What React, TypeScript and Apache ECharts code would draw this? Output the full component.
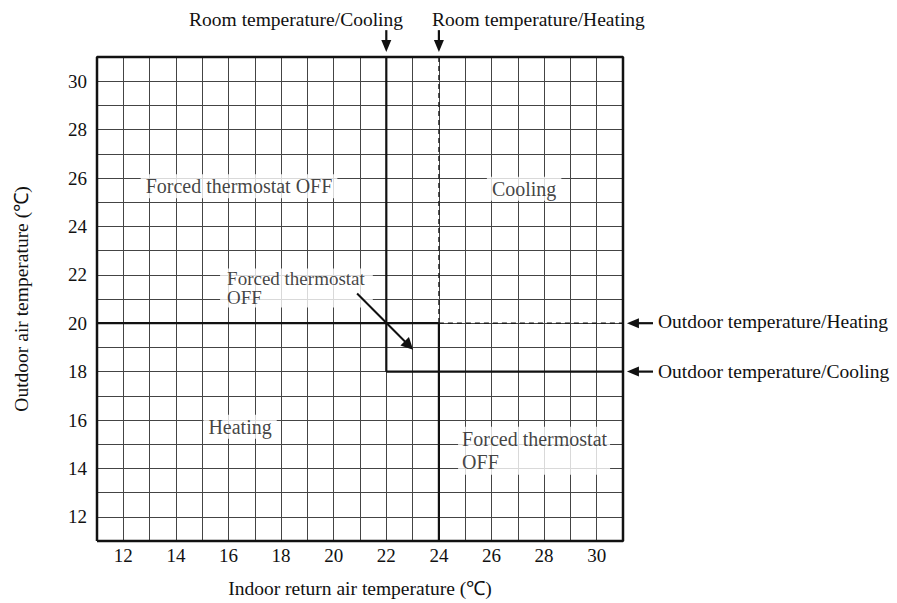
import React, { useEffect, useRef } from "react";
import * as echarts from "echarts";

// ---- axis ranges & tick labels ----
const xRange = [11, 31];
const yRange = [11, 31];
const xTickLabels = [12, 14, 16, 18, 20, 22, 24, 26, 28, 30];
const yTickLabels = [12, 14, 16, 18, 20, 22, 24, 26, 28, 30];

// ---- chart frame ----
const framePath = [
  [11, 11],
  [31, 11],
  [31, 31],
  [11, 31],
  [11, 11],
];

// ---- boundary lines (solid thick) ----
const coolingRoomLine = [
  [22, 31],
  [22, 18],
];
const heatingOutdoorLine = [
  [11, 20],
  [24, 20],
];
const heatingRoomLine = [
  [24, 20],
  [24, 11],
];
const coolingOutdoorLine = [
  [22, 18],
  [31, 18],
];

// ---- dashed extensions ----
const heatingRoomDashed = [
  [24, 31],
  [24, 20],
];
const heatingOutdoorDashed = [
  [24, 20],
  [31, 20],
];

// ---- outside arrows [tail, tip] ----
const outsideArrows = [
  [
    [22, 32.11],
    [22, 31.21],
  ],
  [
    [24, 32.11],
    [24, 31.21],
  ],
  [
    [32.14, 20],
    [31.15, 20],
  ],
  [
    [32.14, 18],
    [31.15, 18],
  ],
];
// ---- inner pointer arrow [tail, tip] ----
const centerArrow = [
  [20.89, 21.23],
  [22.86, 19.08],
];

// ---- region labels ----
const centeredLabels = [
  { name: "Forced thermostat OFF", value: [16.4, 25.66] },
  { name: "Cooling", value: [27.24, 25.56] },
  { name: "Heating", value: [16.44, 15.72] },
];
const middleLabel = { name: "Forced thermostat\nOFF", value: [15.68, 21.45] };
const lowerRightLabel = { name: "Forced thermostat\nOFF", value: [24.73, 14.73] };

const FONT = '"Liberation Serif", "Times New Roman", serif';
const INK = "#111";

export default function App() {
  const ref = useRef<HTMLDivElement>(null);

  useEffect(() => {
    if (!ref.current) return;
    const chart = echarts.init(ref.current, undefined, { renderer: "svg" });

    const thick = (data: number[][], width = 2.2) => ({
      type: "line",
      data,
      symbol: "none",
      clip: false,
      silent: true,
      z: 4,
      lineStyle: { color: INK, width },
    });
    const dashed = (data: number[][]) => ({
      type: "line",
      data,
      symbol: "none",
      clip: false,
      silent: true,
      z: 3,
      lineStyle: { color: INK, width: 1.2, type: [5, 4] },
    });

    const textGraphics = [
      {
        id: "t1",
        type: "text",
        right: 897 - 403,
        top: 9,
        style: { text: "Room temperature/Cooling", font: `19.5px ${FONT}`, fill: INK },
      },
      {
        id: "t2",
        type: "text",
        left: 432,
        top: 9,
        style: { text: "Room temperature/Heating", font: `19.5px ${FONT}`, fill: INK },
      },
      {
        id: "t3",
        type: "text",
        left: 658,
        top: 311,
        style: { text: "Outdoor temperature/Heating", font: `19.5px ${FONT}`, fill: INK },
      },
      {
        id: "t4",
        type: "text",
        left: 658,
        top: 361,
        style: { text: "Outdoor temperature/Cooling", font: `19.5px ${FONT}`, fill: INK },
      },
    ];

    const option: any = {
      animation: false,
      grid: { left: 97, top: 57, right: 274, bottom: 61, containLabel: false },
      xAxis: {
        type: "value",
        min: xRange[0],
        max: xRange[1],
        interval: 1,
        name: "Indoor return air temperature (℃)",
        nameLocation: "middle",
        nameGap: 37,
        nameTextStyle: { fontFamily: FONT, fontSize: 19.5, color: INK },
        axisLine: { show: false },
        axisTick: { show: false },
        axisLabel: {
          margin: 5,
          fontFamily: FONT,
          fontSize: 19,
          color: INK,
          formatter: (v: number) => (xTickLabels.includes(v) ? String(v) : ""),
        },
        splitLine: { show: true, lineStyle: { color: "#444", width: 1 } },
      },
      yAxis: {
        type: "value",
        min: yRange[0],
        max: yRange[1],
        interval: 1,
        name: "Outdoor air temperature (℃)",
        nameLocation: "middle",
        nameGap: 66,
        nameTextStyle: { fontFamily: FONT, fontSize: 19.5, color: INK },
        axisLine: { show: false },
        axisTick: { show: false },
        axisLabel: {
          margin: 10,
          fontFamily: FONT,
          fontSize: 19,
          color: INK,
          formatter: (v: number) => (yTickLabels.includes(v) ? String(v) : ""),
        },
        splitLine: { show: true, lineStyle: { color: "#444", width: 1 } },
      },
      graphic: textGraphics,
      series: [
        {
          type: "line",
          data: framePath,
          symbol: "none",
          clip: false,
          silent: true,
          z: 5,
          lineStyle: { color: INK, width: 2.5 },
          markLine: {
            silent: true,
            symbol: ["none", "triangle"],
            symbolSize: 12,
            label: { show: false },
            lineStyle: { color: INK, width: 2, type: "solid" },
            emphasis: { disabled: true },
            data: [[{ coord: centerArrow[0] }, { coord: centerArrow[1] }]],
          },
        },
        thick(coolingRoomLine),
        thick(heatingOutdoorLine),
        thick(heatingRoomLine),
        thick(coolingOutdoorLine),
        dashed(heatingRoomDashed),
        dashed(heatingOutdoorDashed),
        {
          type: "scatter",
          data: centeredLabels,
          symbolSize: 0,
          silent: true,
          clip: false,
          z: 6,
          label: {
            show: true,
            position: "inside",
            formatter: (p: any) => p.name,
            fontFamily: FONT,
            fontSize: 20,
            color: INK,
            backgroundColor: "#fff",
            padding: [2, 5],
          },
        },
        {
          type: "scatter",
          data: [middleLabel],
          symbolSize: 0,
          silent: true,
          clip: false,
          z: 2,
          label: {
            show: true,
            position: "right",
            distance: 0,
            align: "left",
            formatter: (p: any) => p.name,
            fontFamily: FONT,
            fontSize: 19,
            lineHeight: 19,
            color: INK,
            backgroundColor: "#fff",
            padding: [1, 8, 0, 7],
          },
        },
        {
          type: "scatter",
          data: [lowerRightLabel],
          symbolSize: 0,
          silent: true,
          clip: false,
          z: 6,
          label: {
            show: true,
            position: "right",
            distance: 0,
            align: "left",
            formatter: (p: any) => p.name,
            fontFamily: FONT,
            fontSize: 20,
            lineHeight: 23,
            color: INK,
            backgroundColor: "#fff",
            padding: [1, 3, 1, 4],
          },
        },
      ],
    };

    chart.setOption(option);

    // outside arrows drawn from the axes' own scale
    const arrowGraphics: any[] = [];
    outsideArrows.forEach((a, i) => {
      const tail = chart.convertToPixel({ gridIndex: 0 }, a[0]) as number[];
      const tip = chart.convertToPixel({ gridIndex: 0 }, a[1]) as number[];
      const dx = tip[0] - tail[0];
      const dy = tip[1] - tail[1];
      const len = Math.hypot(dx, dy) || 1;
      const ux = dx / len;
      const uy = dy / len;
      const headLen = 12;
      const halfW = 5;
      const bx = tip[0] - ux * headLen;
      const by = tip[1] - uy * headLen;
      arrowGraphics.push({
        id: "shaft" + i,
        type: "line",
        silent: true,
        shape: { x1: tail[0], y1: tail[1], x2: bx + ux * 1, y2: by + uy * 1 },
        style: { stroke: INK, lineWidth: 2.2 },
      });
      arrowGraphics.push({
        id: "head" + i,
        type: "polygon",
        silent: true,
        shape: {
          points: [
            [tip[0], tip[1]],
            [bx - uy * halfW, by + ux * halfW],
            [bx + uy * halfW, by - ux * halfW],
          ],
        },
        style: { fill: INK },
      });
    });
    chart.setOption({ graphic: [...textGraphics, ...arrowGraphics] });

    return () => chart.dispose();
  }, []);

  return (
    <div
      ref={ref}
      style={{ position: "absolute", left: 0, top: 0, width: 897, height: 603, background: "#fff" }}
    />
  );
}
